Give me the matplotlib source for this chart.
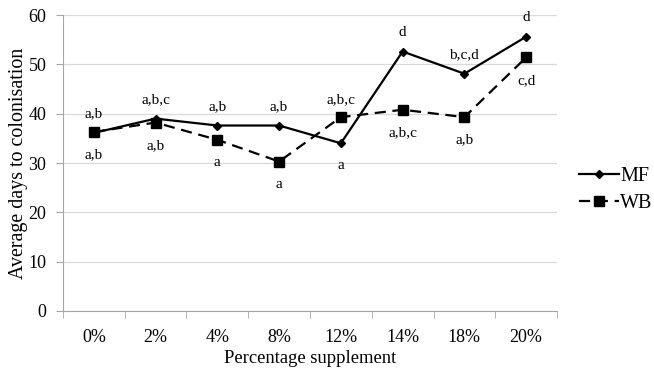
import matplotlib.pyplot as plt
from matplotlib.ticker import FixedLocator

plt.rcParams['font.family'] = ['Liberation Serif', 'DejaVu Serif']

# 数据
categories = ['0%', '2%', '4%', '8%', '12%', '14%', '18%', '20%']
mf_values = [36.1, 39.0, 37.6, 37.6, 34.0, 52.6, 48.1, 55.6]
wb_values = [36.3, 38.2, 34.7, 30.3, 39.3, 40.8, 39.3, 51.4]
mf_labels = ['a,b', 'a,b,c', 'a,b', 'a,b', 'a', 'd', 'b,c,d', 'd']
wb_labels = ['a,b', 'a,b', 'a', 'a', 'a,b,c', 'a,b,c', 'a,b', 'c,d']
mf_above = [True, True, True, True, False, True, True, True]
wb_above = [False, False, False, False, True, False, False, False]

fig = plt.figure(figsize=(6.54, 3.69), dpi=100)
ax = fig.add_axes([0.0963, 0.1572, 0.7554, 0.8021])

x = list(range(len(categories)))
ax.plot(x, mf_values, color='black', linewidth=1.6, marker='D', markersize=4.5, label='MF')
ax.plot(x, wb_values, color='black', linewidth=1.6, linestyle=(0, (5, 3)), marker='s',
        markersize=7, label='WB')

# 显著性字母 (像素偏移 -> 点)
px = 0.72
for i in x:
    dy = 19 if mf_above[i] else -22
    ax.annotate(mf_labels[i], (i, mf_values[i]), xytext=(0, dy * px), textcoords='offset points',
                ha='center', va='center', fontsize=11)
    dy = 17 if wb_above[i] else -23
    ax.annotate(wb_labels[i], (i, wb_values[i]), xytext=(0, dy * px), textcoords='offset points',
                ha='center', va='center', fontsize=11)

ax.set_xlim(-0.5, 7.5)
ax.set_ylim(0, 60)
ax.set_yticks(range(0, 61, 10))
ax.set_xticks(x)
ax.set_xticklabels(categories)
ax.xaxis.set_minor_locator(FixedLocator([i - 0.5 for i in range(len(categories) + 1)]))
ax.tick_params(axis='x', which='major', length=0, pad=13, labelsize=13)
ax.tick_params(axis='x', which='minor', length=5, color='#a6a6a6', direction='out')
ax.tick_params(axis='y', length=5, color='#a6a6a6', pad=7, labelsize=13)

ax.grid(axis='y', color='#d9d9d9', linewidth=0.9)
ax.set_axisbelow(True)
for s in ['top', 'right']:
    ax.spines[s].set_visible(False)
ax.spines['bottom'].set_color('#a6a6a6')
ax.spines['left'].set_color('#a6a6a6')

ax.set_xlabel('Percentage supplement', fontsize=13.4, labelpad=3)
ax.set_ylabel('Average days to colonisation', fontsize=14.4, labelpad=0.5)

ax.legend(loc='center left', bbox_to_anchor=(579 / 654, 1 - 190 / 369),
          bbox_transform=fig.transFigure, frameon=False, fontsize=14.5,
          handlelength=2.0, handletextpad=0.05, labelspacing=0.4,
          borderpad=0, borderaxespad=0)

plt.savefig('out.png', dpi=100)
